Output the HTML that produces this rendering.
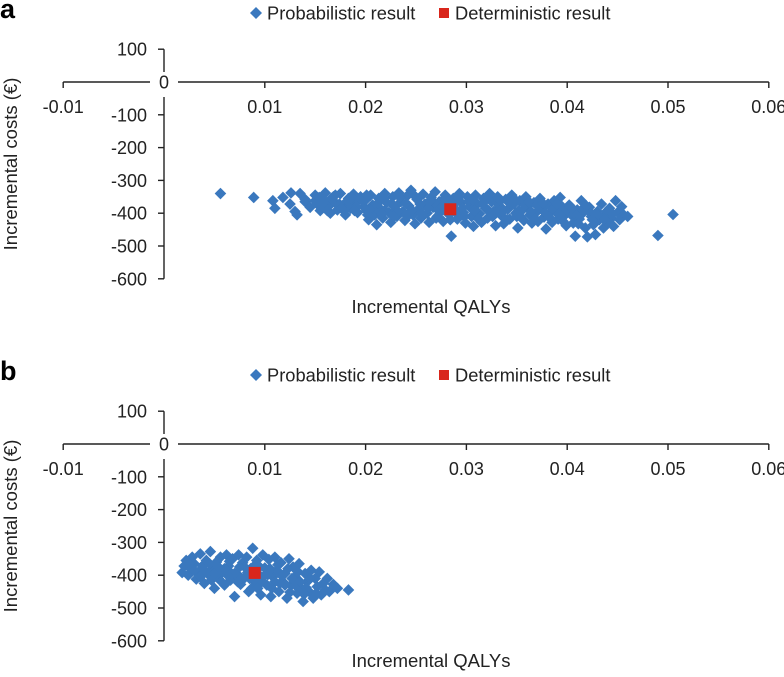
<!DOCTYPE html>
<html><head><meta charset="utf-8">
<style>
body{margin:0;background:#fff;}
svg{display:block;font-family:"Liberation Sans",Arial,sans-serif;}
</style></head>
<body>
<svg id="chart" width="784" height="677" viewBox="0 0 784 677"></svg>
<script>
const xTicks = [-0.01, 0.01, 0.02, 0.03, 0.04, 0.05, 0.06];
const xTickLabels = ["-0.01","0.01","0.02","0.03","0.04","0.05","0.06"];
const yTicks = [100, -100, -200, -300, -400, -500, -600];
const yTickLabels = ["100","-100","-200","-300","-400","-500","-600"];
const deterministicA = [0.0284, -388];
const deterministicB = [0.0090, -393];
const probabilisticA = [
[.0056,-340],[.0089,-352],[.0108,-362],[.0110,-385],[.0118,-352],[.0125,-372],[.0126,-338],[.0135,-340],[.0130,-395],[.0132,-405],[.0140,-365],[.0145,-382],
[.0150,-345],[.0152,-372],[.0155,-392],[.0158,-358],[.0160,-338],[.0163,-380],[.0165,-400],[.0168,-350],[.0170,-368],[.0172,-390],[.0175,-340],[.0178,-375],[.0180,-405],[.0183,-355],[.0185,-385],[.0188,-342],[.0190,-368],[.0192,-398],[.0195,-350],[.0198,-380],
[.0200,-360],[.0201,-392],[.0203,-420],[.0205,-345],[.0207,-375],[.0209,-405],[.0211,-435],[.0213,-355],[.0215,-388],[.0217,-415],[.0219,-340],[.0221,-368],[.0223,-398],[.0225,-428],[.0227,-350],[.0229,-380],[.0231,-410],[.0233,-338],[.0235,-365],[.0237,-395],[.0239,-422],[.0241,-348],[.0243,-378],[.0245,-330],[.0247,-405],[.0249,-432],[.0251,-358],[.0253,-388],[.0255,-415],[.0257,-342],[.0259,-372],[.0261,-400],[.0263,-428],[.0265,-352],[.0267,-382],[.0269,-335],[.0271,-410],[.0273,-365],[.0275,-395],[.0277,-425],[.0279,-345],[.0281,-375],[.0283,-405],[.0285,-470],[.0287,-355],[.0289,-388],[.0291,-418],[.0293,-340],[.0295,-368],[.0297,-398],[.0299,-430],
[.0301,-350],[.0303,-380],[.0305,-410],[.0307,-440],[.0309,-345],[.0311,-372],[.0313,-402],[.0315,-428],[.0317,-355],[.0319,-385],[.0321,-415],[.0323,-340],[.0325,-365],[.0327,-395],[.0329,-438],[.0331,-350],[.0333,-378],[.0335,-408],[.0337,-432],[.0339,-358],[.0341,-388],[.0343,-418],[.0345,-345],[.0347,-372],[.0349,-400],[.0351,-445],[.0353,-362],[.0355,-392],[.0357,-422],[.0359,-350],[.0361,-378],[.0363,-405],[.0365,-430],[.0367,-368],[.0369,-398],[.0371,-425],[.0373,-355],[.0375,-385],[.0377,-412],[.0379,-448],[.0381,-372],[.0383,-400],[.0385,-428],[.0387,-362],[.0389,-390],[.0391,-418],[.0393,-352],[.0395,-380],[.0397,-408],[.0399,-438],
[.0402,-375],[.0404,-405],[.0406,-430],[.0408,-470],[.0410,-390],[.0412,-418],[.0414,-362],[.0416,-398],[.0418,-445],[.0420,-472],[.0422,-382],[.0424,-410],[.0426,-435],[.0428,-465],[.0430,-395],[.0432,-420],[.0434,-372],[.0436,-445],[.0438,-405],[.0440,-430],[.0442,-385],[.0444,-415],[.0446,-440],[.0448,-362],[.0450,-398],[.0452,-420],[.0454,-380],[.0456,-405],[.0460,-410],[.0490,-468],[.0505,-404],
[.0230,-390],[.0250,-395],[.0270,-385],[.0290,-400],[.0310,-395],[.0330,-390],[.0350,-410],[.0370,-395],[.0390,-400],[.0210,-385],[.0180,-388],[.0160,-365],
[.0140,-358],[.0150,-362],[.0157,-375],[.0166,-355],[.0174,-372],[.0182,-362],[.0191,-380],[.0197,-362],[.0204,-388],[.0212,-370],[.0219,-392],[.0226,-372],[.0232,-395],[.0240,-370],[.0246,-392],[.0254,-372],[.0262,-385],[.0268,-368],[.0276,-380],[.0282,-360],[.0288,-372],[.0296,-385],[.0302,-365],[.0308,-392],[.0316,-372],[.0322,-392],[.0330,-368],[.0336,-395],[.0344,-372],[.0352,-392],[.0358,-375],[.0364,-395],[.0372,-380],[.0378,-398],[.0386,-385],[.0392,-402],[.0400,-390],[.0407,-400],[.0415,-388],[.0423,-398],[.0431,-408],[.0439,-395],[.0445,-402],
[.0162,-392],[.0176,-385],[.0189,-392],[.0202,-405],[.0216,-402],[.0228,-410],[.0242,-408],[.0256,-402],[.0270,-415],[.0284,-420],[.0298,-410],[.0312,-418],[.0326,-410],[.0340,-420],[.0354,-412],[.0368,-418],[.0382,-412],[.0396,-425],[.0411,-432],[.0425,-420],[.0437,-418],
[.0154,-352],[.0170,-345],[.0186,-352],[.0201,-345],[.0218,-355],[.0234,-352],[.0248,-345],[.0264,-362],[.0278,-355],[.0292,-352],[.0306,-360],[.0320,-352],[.0334,-362],[.0348,-358],[.0362,-365],[.0376,-370],[.0390,-372],[.0405,-385],[.0419,-378]
];
const probabilisticB = [
[.0018,-392],[.0020,-372],[.0022,-355],[.0024,-400],[.0026,-380],[.0028,-345],[.0030,-365],[.0032,-412],[.0034,-390],[.0036,-335],[.0038,-372],[.0040,-425],[.0042,-355],[.0044,-398],[.0046,-328],[.0048,-382],[.0050,-440],[.0052,-360],[.0054,-410],[.0056,-345],[.0058,-390],[.0060,-430],[.0062,-338],[.0064,-372],[.0066,-415],[.0068,-350],[.0070,-465],[.0072,-395],[.0074,-338],[.0076,-428],[.0078,-362],[.0080,-408],[.0082,-345],[.0084,-450],[.0086,-380],[.0088,-318],[.0090,-420],[.0092,-355],[.0094,-398],[.0096,-460],[.0098,-338],[.0100,-378],[.0102,-430],[.0104,-352],[.0106,-465],[.0108,-405],[.0110,-345],[.0112,-385],[.0114,-450],[.0116,-362],[.0118,-420],[.0120,-395],[.0122,-470],[.0124,-350],[.0126,-430],[.0128,-375],[.0130,-405],[.0132,-455],[.0134,-365],[.0136,-440],[.0138,-480],[.0140,-395],[.0142,-420],[.0144,-450],[.0146,-385],[.0148,-470],[.0150,-410],[.0152,-435],[.0154,-390],[.0156,-460],[.0158,-425],[.0160,-445],[.0162,-410],[.0164,-450],[.0168,-428],[.0172,-440],[.0183,-445],
[.0040,-385],[.0060,-380],[.0070,-395],[.0080,-375],[.0100,-400],[.0110,-420],[.0120,-430],[.0050,-395],[.0090,-370],[.0130,-430],[.0105,-380],[.0085,-410],
[.0030,-385],[.0036,-405],[.0045,-365],[.0055,-378],[.0057,-420],[.0065,-358],[.0067,-395],[.0075,-375],[.0077,-410],[.0083,-392],[.0087,-440],[.0095,-375],[.0097,-420],[.0103,-398],[.0107,-440],[.0113,-368],[.0117,-402],[.0123,-380],[.0125,-452],[.0127,-410],[.0133,-390],[.0135,-420],[.0141,-438],[.0145,-410],[.0151,-455],[.0139,-458],[.0115,-425],[.0093,-440],[.0073,-420],[.0063,-400],[.0047,-415],[.0025,-365]
];

const NS = "http://www.w3.org/2000/svg";
const svg = document.getElementById("chart");
const BLUE = "#3a78be", RED = "#d9261c", INK = "#222";
function mk(tag, attrs, parent, text){
  const e = document.createElementNS(NS, tag);
  for (const k in attrs) e.setAttribute(k, attrs[k]);
  if (text !== undefined) e.textContent = text;
  parent.appendChild(e); return e;
}
function drawPanel(id, letter, top, probs, det, xTitleY){
  const g = mk("g", {}, svg);
  
  
  const y0 = top + 82;
  const yScale = 0.328;
  const X = v => 164 + v * 10080;
  const Y = v => y0 - v * yScale;
  const lt = mk("text", {x:0, y:top+18, "font-size":27, "font-weight":"bold", fill:"#000"}, g, letter);
  
  
  const lg = mk("g", {}, g);
  
  
  const ly = top + 13;
  const ld = mk("path", {d:`M256 ${ly-6} L262 ${ly} L256 ${ly+6} L250 ${ly} Z`, fill:BLUE}, lg);
  
  
  const lt1 = mk("text", {x:267, y:ly+6.5, "font-size":18.3, fill:INK}, lg, "Probabilistic result");
  
  
  const ls = mk("rect", {x:439, y:ly-5, width:10, height:10, fill:RED}, lg);
  
  
  const lt2 = mk("text", {x:455, y:ly+6.5, "font-size":18.3, fill:INK}, lg, "Deterministic result");
  
  
  const ax = mk("path", {d:`M${X(-0.01)} ${y0} H150 M178 ${y0} H${X(0.06)} M164 ${Y(100)} V${y0-10} M164 ${y0+15} V${Y(-600)}`, stroke:INK, "stroke-width":1.4, fill:"none"}, g);
  
  
  xTicks.forEach((t,i)=>{
    const tk = mk("line", {x1:X(t), x2:X(t), y1:y0, y2:y0+6, stroke:INK, "stroke-width":1.4}, g);
    
    
    const tl = mk("text", {x:X(t), y:y0+31, "font-size":18, "text-anchor":"middle", fill:INK}, g, xTickLabels[i]);
    
    
  });
  yTicks.forEach((t,i)=>{
    const tk = mk("line", {x1:158, x2:164, y1:Y(t), y2:Y(t), stroke:INK, "stroke-width":1.4}, g);
    
    
    const tl = mk("text", {x:147, y:Y(t)+6.5, "font-size":18, "text-anchor":"end", fill:INK}, g, yTickLabels[i]);
    
    
  });
  const zl = mk("text", {x:164, y:y0+6.5, "font-size":18, "text-anchor":"middle", fill:INK}, g, "0");
  
  
  const yt = mk("text", {x:0, y:0, "font-size":18.5, "text-anchor":"middle", fill:INK, transform:`translate(17 ${(Y(100)+Y(-600))/2}) rotate(-90)`}, g, "Incremental costs (€)");
  
  
  const xt = mk("text", {x:431, y:xTitleY, "font-size":18.5, "text-anchor":"middle", fill:INK}, g, "Incremental QALYs");
  
  
  const pg = mk("g", {fill:BLUE}, g);
  
  
  probs.forEach(p=>{
    const cx = X(p[0]), cy = Y(p[1]);
    const d = mk("path", {d:`M${cx} ${cy-5.8} L${cx+5.8} ${cy} L${cx} ${cy+5.8} L${cx-5.8} ${cy} Z`}, pg);
    
    
  });
  const r = mk("rect", {x:X(det[0])-6, y:Y(det[1])-6, width:12, height:12, fill:RED}, g);
  
  
}
drawPanel("a", "a", 0, probabilisticA, deterministicA, 313);
drawPanel("b", "b", 362, probabilisticB, deterministicB, 667);
</script>
</body></html>
